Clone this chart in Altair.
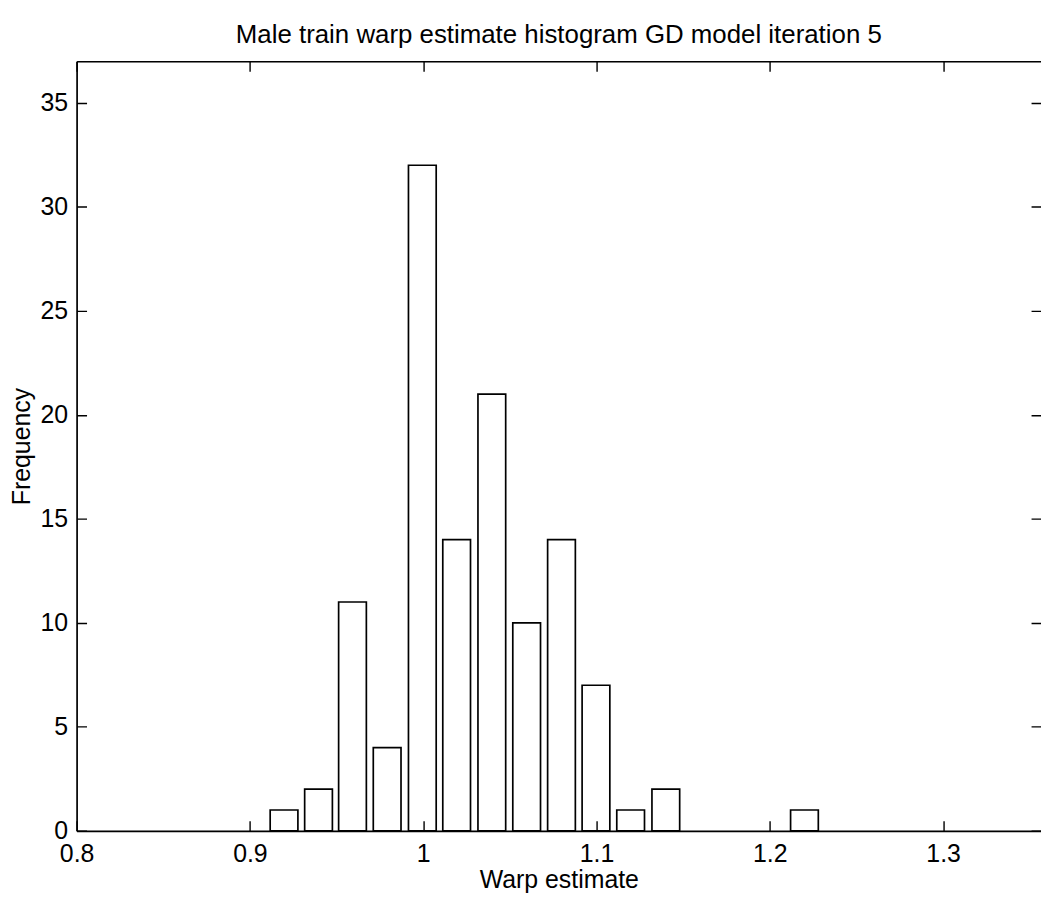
import altair as alt
import pandas as pd

# Histogram bin centers (warp estimate) and counts
centers = [0.9197, 0.9396, 0.9592, 0.9792, 0.9995, 1.0193, 1.0396, 1.0597,
           1.0798, 1.0997, 1.1197, 1.1400, 1.2200]
counts = [1, 2, 11, 4, 32, 14, 21, 10, 14, 7, 1, 2, 1]
bar_width = 0.016

x_ticks = [0.8, 0.9, 1.0, 1.1, 1.2, 1.3]
y_ticks = [0, 5, 10, 15, 20, 25, 30, 35]
x_domain = [0.8, 1.3565]
y_domain = [0, 37]

W, H = 970, 774

df = pd.DataFrame({
    "center": centers,
    "count": counts,
})
df["lo"] = df["center"] - bar_width / 2
df["hi"] = df["center"] + bar_width / 2

FONT = "Liberation Sans"
xscale = alt.Scale(domain=x_domain, nice=False, zero=False)
yscale = alt.Scale(domain=y_domain, nice=False)

base = alt.Chart(df)

bars = base.mark_rect(fill="white", stroke="black", strokeWidth=1.7).encode(
    x=alt.X("lo:Q", scale=xscale,
            axis=alt.Axis(orient="bottom", values=x_ticks, format="~g",
                          title="Warp estimate", ticks=False, grid=True,
                          gridColor="black", gridOpacity=1, gridWidth=1.4,
                          gridDash=[10, H - 20, 10, 2000],
                          domain=True, domainColor="black", domainWidth=1.7,
                          labelFontSize=25, labelPadding=11, labelColor="black",
                          labelFont=FONT, titleFont=FONT, titleFontSize=25,
                          titleFontWeight="normal", titleColor="black",
                          titlePadding=1, zindex=1, labelFlush=False)),
    x2="hi:Q",
    y=alt.Y("count:Q", scale=yscale,
            axis=alt.Axis(orient="left", values=y_ticks, title="Frequency",
                          ticks=False, grid=True, gridColor="black",
                          gridOpacity=1, gridWidth=1.4,
                          gridDash=[10, W - 20, 10, 2000],
                          domain=True, domainColor="black", domainWidth=1.7,
                          labelFontSize=25, labelPadding=9, labelColor="black",
                          labelFont=FONT, titleFont=FONT, titleFontSize=25,
                          titleFontWeight="normal", titleColor="black",
                          titlePadding=6, zindex=1, labelFlush=False)),
    y2=alt.datum(0),
)

top = base.mark_rect(opacity=0).encode(
    x=alt.X("lo:Q", scale=xscale,
            axis=alt.Axis(orient="top", labels=False, ticks=False, grid=False,
                          title=None, domain=True, domainColor="black",
                          domainWidth=1.7, zindex=1)),
    x2="hi:Q",
)

chart = alt.layer(bars, top).resolve_axis(x="independent").properties(
    width=W, height=H,
    title=alt.Title("Male train warp estimate histogram GD model iteration 5",
                    font=FONT, fontSize=26, fontWeight="normal", color="black",
                    offset=13, anchor="middle"),
    autosize=alt.AutoSizeParams(type="none"),
    padding={"left": 69, "top": 51, "right": 0, "bottom": 66},
).configure_view(stroke=None).configure(background="white")

chart.save("out.html", embed_options={"renderer": "svg", "actions": False})
